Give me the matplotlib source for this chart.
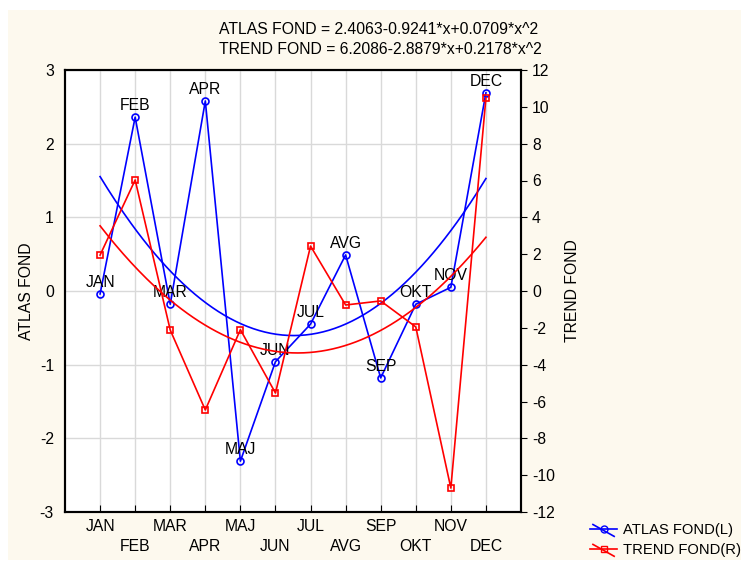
import matplotlib.pyplot as plt
import matplotlib.patches as mpatches
from matplotlib.legend_handler import HandlerLine2D
import numpy as np

plt.rcParams['font.family'] = ['Liberation Sans', 'DejaVu Sans']
plt.rcParams['font.size'] = 11.3
plt.rcParams['axes.unicode_minus'] = False

months = ['JAN', 'FEB', 'MAR', 'APR', 'MAJ', 'JUN',
          'JUL', 'AVG', 'SEP', 'OKT', 'NOV', 'DEC']
atlas = [-0.04, 2.36, -0.18, 2.58, -2.31, -0.96,
         -0.45, 0.49, -1.18, -0.18, 0.05, 2.69]
trend = [1.95, 6.03, -2.12, -6.46, -2.1, -5.54,
         2.44, -0.76, -0.54, -1.95, -10.7, 10.48]
# quadratic fit coefficients printed on the chart (c0, c1, c2)
atlas_fit = [2.4063, -0.9241, 0.0709]
trend_fit = [6.2086, -2.8879, 0.2178]

W, H = 741, 562
fig = plt.figure(figsize=(W / 100, H / 100), dpi=100, facecolor='white')
# cream panel behind everything
fig.patches.append(mpatches.Rectangle((8 / W, 2 / H), 1 - 8 / W, 1 - 12 / H,
                                      transform=fig.transFigure,
                                      facecolor='#fdf9ee', edgecolor='none', zorder=-10))
fig.subplots_adjust(left=65 / W, right=521 / W, top=1 - 70 / H, bottom=1 - 512 / H)

ax = fig.add_subplot(111)
ax.set_facecolor('white')
ax2 = ax.twinx()

x = np.arange(1, len(months) + 1)
xs = np.linspace(1, 12, 200)

blue = '#0000ff'
red = '#ff0000'

ax.plot(x, atlas, color=blue, lw=1.2, marker='o', ms=5, mfc='none', mec=blue, mew=1.2)
ax.plot(xs, atlas_fit[0] + atlas_fit[1] * xs + atlas_fit[2] * xs ** 2, color=blue, lw=1.2)
for xi, yi, m in zip(x, atlas, months):
    ax.annotate(m, (xi, yi), xytext=(0, 3), textcoords='offset points',
                ha='center', va='bottom', fontsize=11.3)

ax2.plot(x, trend, color=red, lw=1.2, marker='s', ms=5, mfc='none', mec=red, mew=1.2)
ax2.plot(xs, trend_fit[0] + trend_fit[1] * xs + trend_fit[2] * xs ** 2, color=red, lw=1.2)

ax.set_xlim(0, 13)
ax.set_ylim(-3, 3)
ax2.set_ylim(-12, 12)
ax.set_yticks(np.arange(-3, 4, 1))
ax2.set_yticks(np.arange(-12, 13, 2))
ax.set_xticks(x)
ax.set_xticklabels([m if i % 2 == 0 else '\n' + m for i, m in enumerate(months)],
                   linespacing=1.45)
ax.grid(True, color='#d9d9d9', lw=1)
ax.set_axisbelow(True)

ax.tick_params(axis='x', direction='in', length=5, pad=5, labelsize=11.3)
ax.tick_params(axis='y', direction='in', length=0, pad=8, labelsize=11.3)
ax2.tick_params(axis='y', direction='out', length=4, pad=4, labelsize=11.3)
for a in (ax, ax2):
    for s in a.spines.values():
        s.set_linewidth(1.5)

ax.set_ylabel('ATLAS FOND', fontsize=11.3, labelpad=4)
ax2.set_ylabel('TREND FOND', fontsize=11.3, labelpad=7)

fig.text(219 / W, 1 - 30 / H, 'ATLAS FOND = 2.4063-0.9241*x+0.0709*x^2',
         ha='left', va='center', fontsize=11.3)
fig.text(219 / W, 1 - 50 / H, 'TREND FOND = 6.2086-2.8879*x+0.2178*x^2',
         ha='left', va='center', fontsize=11.3)


class SlashHandler(HandlerLine2D):
    # legend key with a diagonal stroke through the marker
    def create_artists(self, legend, orig_handle, xdescent, ydescent,
                       width, height, fontsize, trans):
        arts = super().create_artists(legend, orig_handle, xdescent, ydescent,
                                      width, height, fontsize, trans)
        d = plt.Line2D([width * 0.1, width * 0.9], [height * 0.95, -height * 0.2],
                       color=orig_handle.get_color(), lw=1.2, transform=trans)
        return list(arts) + [d]


h1 = plt.Line2D([], [], color=blue, lw=1.2, marker='o', ms=5, mfc='none', mec=blue)
h2 = plt.Line2D([], [], color=red, lw=1.2, marker='s', ms=5, mfc='none', mec=red)
fig.legend([h1, h2], ['ATLAS FOND(L)', 'TREND FOND(R)'], loc='upper left',
           bbox_to_anchor=(580 / W, 1 - 513 / H), frameon=False, fontsize=10.6,
           handlelength=1.8, handletextpad=0.4, labelspacing=0.4, borderpad=0.2,
           handler_map={plt.Line2D: SlashHandler()})

plt.savefig('out.png', dpi=100, facecolor='white')
